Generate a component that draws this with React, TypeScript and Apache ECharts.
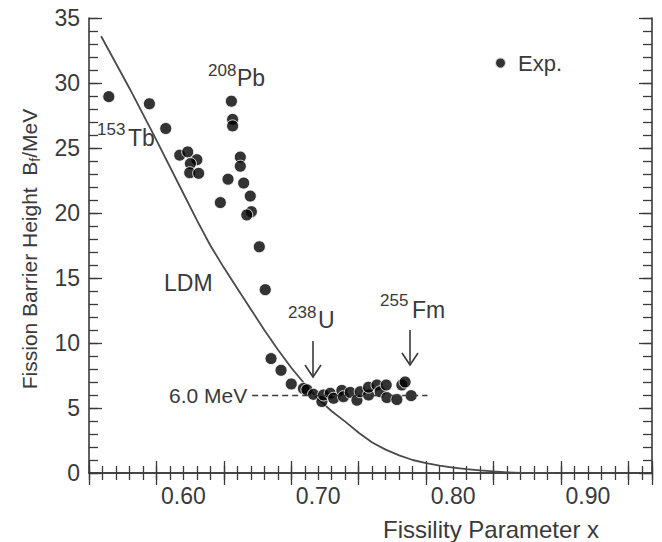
import React, { useEffect, useRef } from "react";
import * as echarts from "echarts";

// Measured fission barrier heights (fissility x, barrier in MeV)
const expX = [
  0.5447, 0.5748, 0.5869, 0.5973, 0.6032, 0.61, 0.6052, 0.6047, 0.6113,
  0.6356, 0.6365, 0.6365, 0.6422, 0.6422, 0.6331, 0.6447, 0.6274, 0.6496,
  0.6504, 0.647, 0.6563, 0.6607, 0.665, 0.6724, 0.68, 0.689, 0.6916, 0.6965,
  0.7027, 0.7039, 0.7089, 0.7114, 0.7175, 0.7187, 0.7237, 0.7287, 0.7311,
  0.7373, 0.7373, 0.7435, 0.7459, 0.7504, 0.7509, 0.7583, 0.762, 0.7644,
  0.7689,
];
const expY = [
  28.95, 28.4, 26.5, 24.45, 24.7, 24.1, 23.8, 23.1, 23.05,
  28.6, 27.2, 26.7, 24.3, 23.6, 22.6, 22.3, 20.8, 21.3,
  20.1, 19.85, 17.4, 14.1, 8.8, 7.9, 6.85, 6.5, 6.4, 6.05,
  5.5, 6.0, 6.13, 5.75, 6.35, 5.87, 6.2, 5.6, 6.25,
  6.0, 6.6, 6.77, 6.25, 6.77, 5.8, 5.65, 6.77, 7.0,
  5.95,
];

// Liquid drop model barrier
const ldmX = [
  0.539, 0.56, 0.58, 0.6, 0.61, 0.62, 0.63, 0.64, 0.65, 0.66, 0.67, 0.68,
  0.69, 0.7, 0.71, 0.72, 0.73, 0.74, 0.75, 0.76, 0.77, 0.78, 0.79, 0.8,
  0.81, 0.82, 0.83, 0.84, 0.85, 0.875,
];
const ldmY = [
  33.6, 29.6, 25.6, 21.5, 19.45, 17.5, 15.8, 14.2, 12.6, 11.0, 9.5, 8.1,
  6.85, 5.7, 4.75, 3.95, 3.1, 2.35, 1.8, 1.35, 1.0, 0.76, 0.57, 0.42,
  0.3, 0.2, 0.12, 0.05, 0, 0,
];

// Reference level drawn as a dashed line
const refLevel = 6.0;
const refSpan = [0.651, 0.781];

const xRange = [0.53, 0.9475];
const yRange = [0, 35];

const FONT = "'Liberation Sans', Arial, Helvetica, sans-serif";
const INK = "#3a3a3a";

export default function App() {
  const ref = useRef<HTMLDivElement>(null);

  useEffect(() => {
    if (!ref.current) return;
    const chart = echarts.init(ref.current, undefined, { renderer: "svg" });

    const axisLine = { show: true, lineStyle: { color: INK, width: 1.6 } };
    const tickStyle = { color: INK, width: 1.3 };

    const xAxisBase = (position: string, interval: number, len: number, labels: boolean, line: boolean) => ({
      type: "value",
      position,
      min: xRange[0],
      max: xRange[1],
      interval,
      splitLine: { show: false },
      axisLine: { ...axisLine, show: line },
      axisTick: { show: true, inside: true, length: len, lineStyle: tickStyle },
      axisLabel: labels
        ? {
            show: true,
            margin: 11,
            color: INK,
            fontSize: 23,
            fontFamily: FONT,
            formatter: (v: number) => {
              const t = v * 10;
              return Math.abs(t - Math.round(t)) < 1e-6 && v > 0.55 && v < 0.945 ? v.toFixed(2) : "";
            },
          }
        : { show: false },
    });

    const yAxisBase = (position: string, interval: number, len: number, labels: boolean, line: boolean) => ({
      type: "value",
      position,
      min: yRange[0],
      max: yRange[1],
      interval,
      splitLine: { show: false },
      axisLine: { ...axisLine, show: line },
      axisTick: { show: true, inside: true, length: len, lineStyle: tickStyle },
      axisLabel: labels
        ? {
            show: true,
            margin: 9,
            color: INK,
            fontSize: 23,
            fontFamily: FONT,
            formatter: (v: number) => (Math.abs(v % 5) < 1e-6 ? String(Math.round(v)) : ""),
          }
        : { show: false },
    });

    const txt = (text: string, x: number, y: number, size: number, align = "left") => ({
      type: "text",
      x,
      y,
      silent: true,
      style: {
        text,
        fill: INK,
        fontSize: size,
        fontFamily: FONT,
        textAlign: align,
        textVerticalAlign: "middle",
      },
    });

    const arrow = (x: number, y1: number, y2: number) => [
      {
        type: "line",
        silent: true,
        shape: { x1: x, y1, x2: x, y2 },
        style: { stroke: INK, lineWidth: 1.6 },
      },
      {
        type: "polyline",
        silent: true,
        shape: { points: [[x - 8, y2 - 12], [x, y2], [x + 8, y2 - 12]] },
        style: { stroke: INK, lineWidth: 1.6, fill: null },
      },
    ];

    chart.setOption({
      animation: false,
      backgroundColor: "#ffffff",
      grid: { left: 89, right: 10, top: 18, bottom: 69, containLabel: false },
      xAxis: [
        xAxisBase("bottom", 0.01, 7, true, true),
        xAxisBase("bottom", 0.05, 12, false, false),
        xAxisBase("top", 0.01, 7, false, true),
        xAxisBase("top", 0.05, 12, false, false),
      ],
      yAxis: [
        yAxisBase("left", 1, 9, true, true),
        yAxisBase("left", 5, 13, false, false),
        yAxisBase("right", 1, 9, false, true),
        yAxisBase("right", 5, 13, false, false),
      ],
      legend: {
        show: true,
        data: ["Exp."],
        left: 494,
        top: 52,
        padding: 0,
        itemWidth: 11,
        itemHeight: 11,
        icon: "circle",
        textStyle: { color: INK, fontSize: 22, fontFamily: FONT, padding: [0, 0, 0, 7] },
      },
      series: [
        {
          name: "LDM",
          type: "line",
          xAxisIndex: 0,
          yAxisIndex: 0,
          z: 2,
          showSymbol: false,
          smooth: false,
          data: ldmX.map((x, i) => [x, ldmY[i]]),
          lineStyle: { color: "#4a4a4a", width: 1.8 },
          markLine: {
            silent: true,
            symbol: ["none", "none"],
            lineStyle: { color: INK, width: 1.3, type: [6, 4] },
            label: {
              show: true,
              position: "start",
              distance: 5,
              formatter: "6.0 MeV",
              color: INK,
              fontSize: 21,
              fontFamily: FONT,
            },
            data: [[{ coord: [refSpan[0], refLevel] }, { coord: [refSpan[1], refLevel] }]],
          },
        },
        {
          name: "Exp.",
          type: "scatter",
          xAxisIndex: 0,
          yAxisIndex: 0,
          z: 3,
          symbol: "circle",
          symbolSize: 12,
          itemStyle: { color: "#000000", borderColor: "#ffffff", borderWidth: 1 },
          data: expX.map((x, i) => [x, expY[i]]),
        },
      ],
      graphic: [
        txt("153", 97, 129, 17),
        txt("Tb", 128, 138, 23),
        txt("208", 208, 70, 17),
        txt("Pb", 237, 78, 23),
        txt("LDM", 164, 283, 23),
        txt("238", 288, 312, 17),
        txt("U", 318, 320, 23),
        txt("255", 380, 300, 17),
        txt("Fm", 412, 310, 23),
        ...arrow(313, 341, 377),
        ...arrow(410, 330, 365),
        txt("Fissility Parameter x", 383, 529, 24),
        {
          type: "text",
          x: 29,
          y: 249,
          rotation: Math.PI / 2,
          silent: true,
          style: {
            text: "{a|Fission Barrier Height  B}{s|f}{a|/MeV}",
            fill: INK,
            fontFamily: FONT,
            fontSize: 21,
            textAlign: "center",
            textVerticalAlign: "middle",
            rich: {
              a: { fontSize: 21, fontFamily: FONT, fill: INK, color: INK, lineHeight: 26 },
              s: { fontSize: 14, fontFamily: FONT, fill: INK, color: INK, lineHeight: 15, verticalAlign: "bottom" },
            },
          },
        },
      ],
    });

    return () => chart.dispose();
  }, []);

  return (
    <div
      ref={ref}
      style={{ position: "fixed", left: 0, top: 0, width: 662, height: 542, background: "#fff" }}
    />
  );
}
